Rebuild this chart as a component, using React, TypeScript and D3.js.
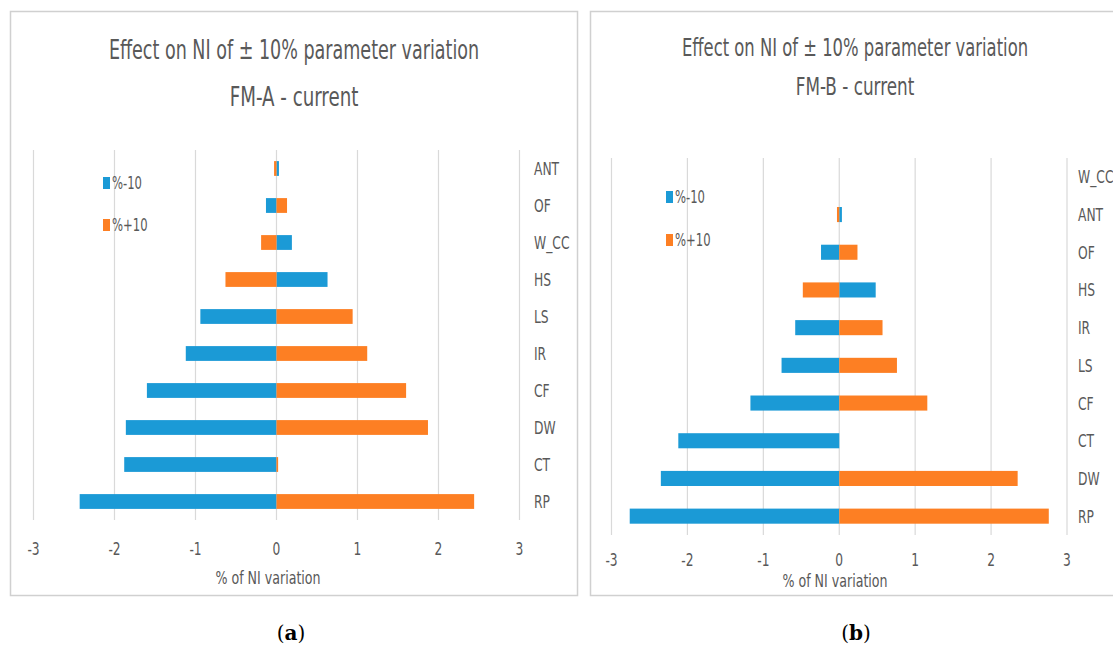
import React from "react";
import * as d3 from "d3";

// categories listed from top to bottom, as in the reference
const catsA = ["ANT", "OF", "W_CC", "HS", "LS", "IR", "CF", "DW", "CT", "RP"];
const minusA = [0.03, -0.13, 0.19, 0.63, -0.94, -1.12, -1.6, -1.86, -1.88, -2.43];
const plusA = [-0.03, 0.13, -0.19, -0.63, 0.94, 1.12, 1.6, 1.87, 0.02, 2.44];

const catsB = ["W_CC", "ANT", "OF", "HS", "IR", "LS", "CF", "CT", "DW", "RP"];
const minusB = [0, 0.035, -0.24, 0.48, -0.58, -0.76, -1.17, -2.12, -2.35, -2.76];
const plusB = [0, -0.03, 0.24, -0.48, 0.57, 0.76, 1.16, 0, 2.35, 2.76];

const xTicks = [-3, -2, -1, 0, 1, 2, 3];
const seriesNames = ["%-10", "%+10"];
const titleLine1 = "Effect on NI of \u00B1 10% parameter variation";
const axisTitle = "% of NI variation";

const BLUE = "#1b9ad6";
const ORANGE = "#fd7f23";
const TEXT = "#595959";
const GRID = "#d9d9d9";
const FONT = "'DejaVu Sans Condensed', 'Liberation Sans Narrow', 'Open Sans', sans-serif";

// narrow text, squeezed horizontally like the Calibri in the original
const Txt = ({ x, y, size, anchor, sx = 0.8, children }:
  { x: number; y: number; size: number; anchor?: string; sx?: number; children: React.ReactNode }) => (
  <text transform={`translate(${x},${y}) scale(${sx},1)`} textAnchor={anchor || "start"} fill={TEXT}
    fontSize={size} fontFamily={FONT}>{children}</text>
);

interface PanelProps {
  cats: string[];
  minus: number[];
  plus: number[];
  subtitle: string;
  box: [number, number, number, number];
  xr: [number, number];
  yr: [number, number];
  labelX: number;
  tickY: number;
  axisTitleX: number;
  axisTitleY: number;
  titleX: number;
  titleY: [number, number];
  titleSx: [number, number];
  titleSize: number;
  legend: [number, number, number];
}

const Panel = (p: PanelProps) => {
  const x = d3.scaleLinear().domain([-3, 3]).range(p.xr);
  const y = d3.scaleBand().domain(p.cats).range(p.yr).paddingInner(0.6).paddingOuter(0.3);
  const yc = d3.scaleBand().domain(p.cats).range(p.yr);
  const colors = [BLUE, ORANGE];

  return (
    <g>
      <rect x={p.box[0]} y={p.box[1]} width={p.box[2]} height={p.box[3]}
        fill="#fff" stroke="#d0d0d0" strokeWidth={1.5} />
      <Txt x={p.titleX} y={p.titleY[0]} size={p.titleSize} anchor="middle" sx={p.titleSx[0]}>{titleLine1}</Txt>
      <Txt x={p.titleX} y={p.titleY[1]} size={p.titleSize} anchor="middle" sx={p.titleSx[1]}>{p.subtitle}</Txt>

      {xTicks.map(t => (
        <g key={t}>
          <line x1={x(t)} x2={x(t)} y1={p.yr[0]} y2={p.yr[1]} stroke={GRID} strokeWidth={1.2} />
          <Txt x={x(t)} y={p.tickY} size={17} anchor="middle">{t}</Txt>
        </g>
      ))}

      {[p.minus, p.plus].map((vals, si) => (
        <g key={si} fill={colors[si]}>
          {vals.map((v, i) => (
            <rect key={i} x={x(Math.min(0, v))} y={y(p.cats[i])} width={Math.abs(x(v) - x(0))}
              height={y.bandwidth()} />
          ))}
        </g>
      ))}

      {p.cats.map(c => (
        <Txt key={c} x={p.labelX} y={(yc(c) as number) + yc.bandwidth() / 2 + 6.5} size={18} sx={0.76}>{c}</Txt>
      ))}

      <Txt x={p.axisTitleX} y={p.axisTitleY} size={18} anchor="middle" sx={0.78}>{axisTitle}</Txt>

      {seriesNames.map((s, i) => (
        <g key={s}>
          <rect x={p.legend[0]} y={p.legend[1] + i * p.legend[2] - 6} width={7} height={12} fill={colors[i]} />
          <Txt x={p.legend[0] + 9} y={p.legend[1] + i * p.legend[2] + 6} size={17} sx={0.76}>{s}</Txt>
        </g>
      ))}
    </g>
  );
};

export default function App() {
  return (
    <svg width={1113} height={646} style={{ position: "absolute", left: 0, top: 0, background: "#fff" }}>
      <Panel cats={catsA} minus={minusA} plus={plusA} subtitle="FM-A - current"
        box={[10.5, 11.5, 567, 584]} xr={[33.5, 519.5]} yr={[150, 520]} labelX={534}
        tickY={555} axisTitleX={268} axisTitleY={584} titleX={294} titleY={[59, 106]}
        titleSx={[0.75, 0.78]} titleSize={26} legend={[103, 183, 42]} />
      <Panel cats={catsB} minus={minusB} plus={plusB} subtitle="FM-B - current"
        box={[590.5, 11.5, 540, 584]} xr={[611.5, 1067]} yr={[158, 535]} labelX={1078}
        tickY={566} axisTitleX={835} axisTitleY={587} titleX={855} titleY={[56, 95]}
        titleSx={[0.76, 0.78]} titleSize={24} legend={[666, 197, 43]} />
      <text x={291} y={640} textAnchor="middle" fontSize={20} fontFamily="'DejaVu Serif', 'Liberation Serif', serif">
        (<tspan fontWeight="bold">a</tspan>)
      </text>
      <text x={856} y={640} textAnchor="middle" fontSize={20} fontFamily="'DejaVu Serif', 'Liberation Serif', serif">
        (<tspan fontWeight="bold">b</tspan>)
      </text>
    </svg>
  );
}
